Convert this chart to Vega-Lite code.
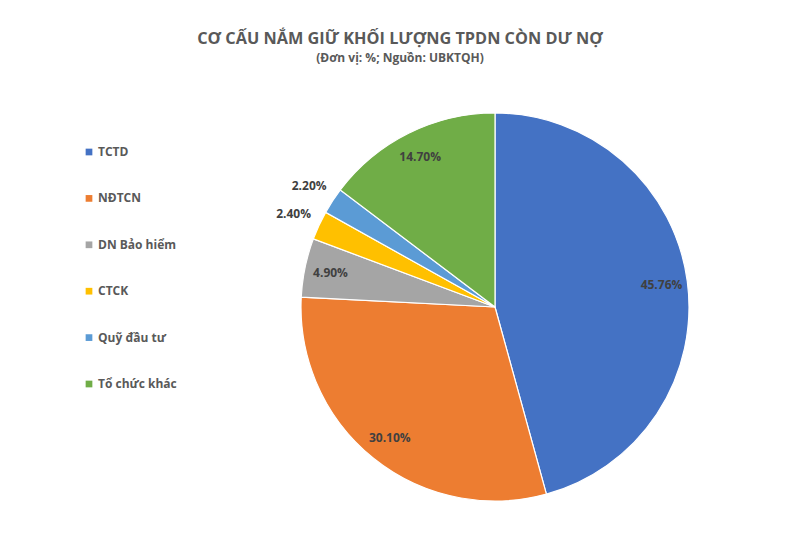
{
  "$schema": "https://vega.github.io/schema/vega-lite/v6.json",
  "width": 388,
  "height": 388,
  "autosize": {"type": "none"},
  "padding": {"left": 301, "top": 113, "right": 103, "bottom": 47},
  "background": "white",
  "config": {"view": {"stroke": null}, "font": "Open Sans"},
  "title": {
    "text": "CƠ CẤU NẮM GIỮ KHỐI LƯỢNG TPDN CÒN DƯ NỢ",
    "subtitle": "(Đơn vị: %; Nguồn: UBKTQH)",
    "anchor": "middle",
    "frame": "group",
    "dx": -95,
    "offset": 38,
    "font": "Open Sans",
    "fontSize": 16.3,
    "fontWeight": "bold",
    "color": "#595959",
    "subtitleFont": "Open Sans",
    "subtitleFontSize": 12,
    "subtitleFontWeight": "bold",
    "subtitleColor": "#595959",
    "subtitlePadding": 6
  },
  "data": {
    "values": [
      {"name": "TCTD", "share": 0.4576, "order": 1},
      {"name": "NĐTCN", "share": 0.3010, "order": 2},
      {"name": "DN Bảo hiểm", "share": 0.0490, "order": 3},
      {"name": "CTCK", "share": 0.0240, "order": 4},
      {"name": "Quỹ đầu tư", "share": 0.0220, "order": 5},
      {"name": "Tổ chức khác", "share": 0.1470, "order": 6}
    ]
  },
  "encoding": {
    "theta": {"field": "share", "type": "quantitative", "stack": true},
    "order": {"field": "order", "type": "quantitative"}
  },
  "layer": [
    {
      "mark": {"type": "arc", "outerRadius": 194, "stroke": "white", "strokeWidth": 1.2},
      "encoding": {
        "color": {
          "field": "name",
          "type": "nominal",
          "scale": {
            "domain": ["TCTD", "NĐTCN", "DN Bảo hiểm", "CTCK", "Quỹ đầu tư", "Tổ chức khác"],
            "range": ["#4472C4", "#ED7D31", "#A5A5A5", "#FFC000", "#5B9BD5", "#70AD47"]
          },
          "legend": {
            "title": null,
            "orient": "none",
            "legendX": -218,
            "legendY": 33,
            "symbolType": "square",
            "symbolSize": 45,
            "symbolStrokeWidth": 0,
            "labelFont": "Open Sans",
            "labelFontSize": 12,
            "labelFontWeight": "bold",
            "labelColor": "#595959",
            "labelOffset": 3,
            "rowPadding": 34.4
          }
        }
      }
    },
    {
      "mark": {"type": "text", "radius": 168, "font": "Open Sans", "fontSize": 12, "fontWeight": "bold", "fill": "#404040"},
      "encoding": {
        "text": {
          "condition": {"test": "datum.share >= 0.03", "field": "share", "type": "quantitative", "format": ".2%"},
          "value": ""
        }
      }
    },
    {
      "mark": {"type": "text", "radius": 222, "font": "Open Sans", "fontSize": 12, "fontWeight": "bold", "fill": "#404040"},
      "encoding": {
        "text": {
          "condition": {"test": "datum.share < 0.03", "field": "share", "type": "quantitative", "format": ".2%"},
          "value": ""
        }
      }
    }
  ]
}
